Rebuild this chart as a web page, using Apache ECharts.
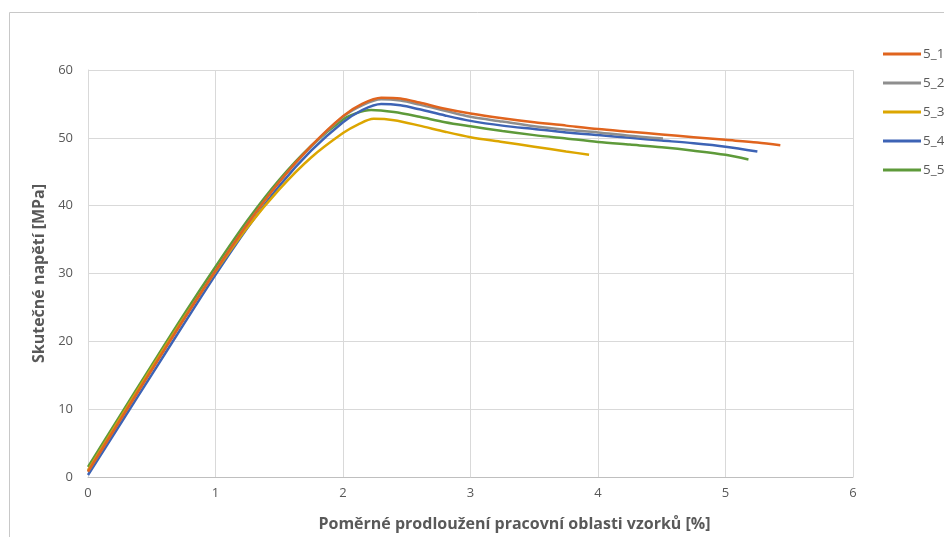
<!DOCTYPE html>
<html>
<head>
<meta charset="utf-8">
<script src="https://cdn.jsdelivr.net/npm/echarts@6/dist/echarts.min.js"></script>
<style>html,body{margin:0;padding:0;background:#fff}#c{width:944px;height:537px}</style>
</head>
<body>
<div id="c"></div>
<script>
var seriesNames = ['5_1', '5_2', '5_3', '5_4', '5_5'];
var xTicks = [0, 1, 2, 3, 4, 5, 6];
var yTicks = [0, 10, 20, 30, 40, 50, 60];

var s5_1 = [[0,0.8],[0.25,8.3],[0.5,15.8],[0.75,23.2],[1,30.4],[1.25,37.3],[1.5,43.5],[1.75,48.8],[2,53.2],[2.15,55.0],[2.3,55.9],[2.45,55.8],[2.6,55.2],[2.8,54.3],[3,53.6],[3.25,52.9],[3.5,52.3],[3.75,51.8],[4,51.3],[4.25,50.9],[4.5,50.5],[4.75,50.1],[5,49.7],[5.25,49.3],[5.43,48.9]];
var s5_2 = [[0,0.8],[0.25,8.3],[0.5,15.8],[0.75,23.2],[1,30.4],[1.25,37.3],[1.5,43.5],[1.75,48.7],[2,53.1],[2.15,54.8],[2.3,55.7],[2.45,55.5],[2.6,54.9],[2.8,54.0],[3,53.1],[3.25,52.4],[3.5,51.7],[3.75,51.2],[4,50.8],[4.25,50.3],[4.51,49.9]];
var s5_3 = [[0,1.0],[0.25,8.6],[0.5,16.1],[0.75,23.4],[1,30.3],[1.25,36.8],[1.5,42.4],[1.75,47.1],[2,50.7],[2.12,52.0],[2.24,52.8],[2.4,52.6],[2.6,51.8],[2.8,50.9],[3,50.1],[3.25,49.4],[3.5,48.7],[3.75,48.0],[3.93,47.5]];
var s5_4 = [[0,0.3],[0.25,7.7],[0.5,15.1],[0.75,22.5],[1,29.8],[1.25,36.7],[1.5,42.9],[1.75,48.1],[2,52.3],[2.15,54.1],[2.3,55.0],[2.45,54.8],[2.6,54.2],[2.8,53.3],[3,52.5],[3.25,51.8],[3.5,51.3],[3.75,50.8],[4,50.4],[4.25,50.0],[4.5,49.6],[4.75,49.2],[5,48.7],[5.25,48.0]];
var s5_5 = [[0,1.5],[0.25,9.0],[0.5,16.5],[0.75,23.9],[1,31.0],[1.25,37.8],[1.5,43.8],[1.75,48.8],[2,52.7],[2.1,53.6],[2.22,54.1],[2.4,53.8],[2.6,53.1],[2.8,52.3],[3,51.7],[3.25,51.0],[3.5,50.4],[3.75,49.9],[4,49.4],[4.25,49.0],[4.5,48.6],[4.75,48.1],[5,47.5],[5.18,46.8]];

var colors = ['#E0641E', '#8E8E8E', '#DCA600', '#3D63B5', '#5E9A3A'];
var allData = [s5_1, s5_2, s5_3, s5_4, s5_5];
var FONT = 'Open Sans';

var chart = echarts.init(document.getElementById('c'));
chart.setOption({
  animation: false,
  backgroundColor: '#fff',
  textStyle: { fontFamily: FONT },
  grid: { left: 88, right: 91, top: 70, bottom: 59, containLabel: false },
  graphic: [{
    type: 'rect', silent: true,
    shape: { x: 9.5, y: 12.5, width: 1000, height: 1000 },
    style: { fill: 'none', stroke: '#c8c8c8', lineWidth: 1 }
  }],
  legend: {
    orient: 'vertical', right: 0, left: 878, top: 42, itemGap: 15,
    itemWidth: 38, itemHeight: 3,
    icon: 'rect',
    textStyle: { fontFamily: FONT, fontSize: 13.5, color: '#595959', padding: [0, 0, 0, -3] },
    data: seriesNames
  },
  xAxis: {
    type: 'value', min: 0, max: 6, interval: 1,
    name: 'Poměrné prodloužení pracovní oblasti vzorků [%]',
    nameLocation: 'middle', nameGap: 39,
    nameTextStyle: { fontFamily: FONT, fontSize: 16, fontWeight: 'bold', color: '#595959', padding: [0, 0, 0, 88] },
    axisLine: { show: true, lineStyle: { color: '#bfbfbf', width: 1 } },
    axisTick: { show: false },
    axisLabel: { fontFamily: FONT, fontSize: 13, color: '#595959', margin: 10,
      formatter: function (v) { return xTicks.indexOf(v) >= 0 ? String(v) : ''; } },
    splitLine: { show: true, lineStyle: { color: '#d9d9d9', width: 1 } }
  },
  yAxis: {
    type: 'value', min: 0, max: 60, interval: 10,
    name: 'Skutečné napětí [MPa]',
    nameLocation: 'middle', nameGap: 40, nameRotate: 90,
    nameTextStyle: { fontFamily: FONT, fontSize: 16, fontWeight: 'bold', color: '#595959' },
    axisLine: { show: true, lineStyle: { color: '#d9d9d9', width: 1 } },
    axisTick: { show: false },
    axisLabel: { fontFamily: FONT, fontSize: 13, color: '#595959', margin: 15,
      formatter: function (v) { return yTicks.indexOf(v) >= 0 ? String(v) : ''; } },
    splitLine: { show: true, lineStyle: { color: '#d9d9d9', width: 1 } }
  },
  series: seriesNames.map(function (n, i) {
    return {
      name: n, type: 'line', data: allData[i], smooth: 0.3,
      showSymbol: false, symbol: 'none',
      itemStyle: { color: colors[i] },
      lineStyle: { color: colors[i], width: 2.5 },
      z: 10 - i
    };
  })
});
</script>
</body>
</html>
